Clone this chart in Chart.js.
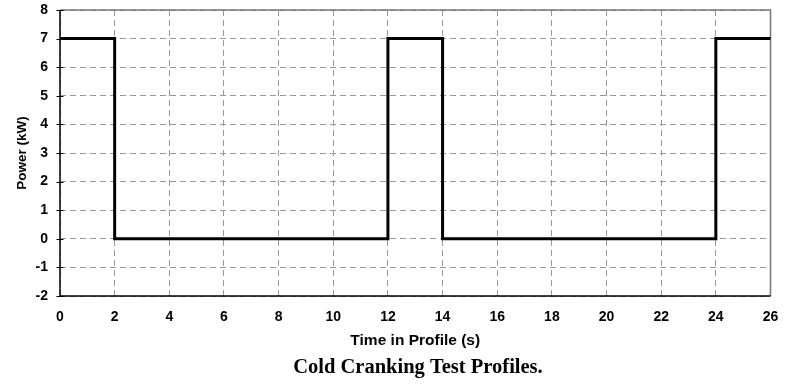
<!DOCTYPE html>
<html>
<head>
<meta charset="utf-8">
<script src="https://cdn.jsdelivr.net/npm/chart.js@4/dist/chart.umd.min.js"></script>
<style>
  html, body { margin: 0; padding: 0; background: #fff; }
  #wrap { width: 788px; height: 388px; position: relative; }
</style>
</head>
<body>
<div id="wrap"><canvas id="c" width="788" height="388"></canvas></div>
<script>
const timeS = [0, 2, 2, 12, 12, 14, 14, 24, 24, 26];
const powerKW = [7, 7, 0, 0, 7, 7, 0, 0, 7, 7];
const xTicks = [0, 2, 4, 6, 8, 10, 12, 14, 16, 18, 20, 22, 24, 26];
const yTicks = [-2, -1, 0, 1, 2, 3, 4, 5, 6, 7, 8];
const xTitle = 'Time in Profile (s)';
const yTitle = 'Power (kW)';
const caption = 'Cold Cranking Test Profiles.';

const points = timeS.map((t, i) => ({ x: t, y: powerKW[i] }));

const framePlugin = {
  id: 'frame',
  beforeDatasetsDraw(chart) {
    const { ctx, chartArea: a } = chart;
    const ys = chart.scales.y;
    ctx.save();
    ctx.lineWidth = 1.5;
    ctx.strokeStyle = '#777';
    ctx.beginPath();
    ctx.moveTo(a.left, a.top);
    ctx.lineTo(a.right, a.top);
    ctx.lineTo(a.right, a.bottom);
    ctx.stroke();
    ctx.strokeStyle = '#000';
    ctx.beginPath();
    ctx.moveTo(a.left, a.top);
    ctx.lineTo(a.left, a.bottom);
    ctx.lineTo(a.right, a.bottom);
    ctx.stroke();
    ctx.lineWidth = 1;
    ctx.beginPath();
    yTicks.forEach(v => {
      const p = Math.round(ys.getPixelForValue(v)) + 0.5;
      ctx.moveTo(a.left - 3.5, p);
      ctx.lineTo(a.left + 3.5, p);
    });
    ctx.stroke();
    ctx.restore();
  },
  afterDraw(chart) {
    const { ctx } = chart;
    ctx.save();
    ctx.fillStyle = '#000';
    ctx.font = 'bold 20.5px "Liberation Serif", "Times New Roman", serif';
    ctx.textAlign = 'center';
    ctx.textBaseline = 'middle';
    ctx.fillText(caption, 418, 368);
    ctx.restore();
  }
};

const tickFont = { family: 'Liberation Sans, Arial, sans-serif', size: 14, weight: 'bold' };

new Chart(document.getElementById('c'), {
  type: 'line',
  data: {
    datasets: [{
      data: points,
      borderColor: '#000',
      borderWidth: 3,
      pointRadius: 0,
      tension: 0,
      fill: false,
      borderJoinStyle: 'miter',
      clip: false
    }]
  },
  options: {
    responsive: false,
    animation: false,
    events: [],
    layout: { padding: { top: 10, right: 17.5, left: 0, bottom: 34 } },
    plugins: {
      legend: { display: false },
      tooltip: { enabled: false },
      title: { display: false }
    },
    scales: {
      x: {
        type: 'linear',
        min: 0,
        max: 26,
        afterBuildTicks(scale) { scale.ticks = xTicks.map(v => ({ value: v })); },
        afterFit(scale) { scale.height = 58; scale.paddingLeft = 0; scale.paddingRight = 0; },
        ticks: { font: tickFont, color: '#000', padding: 13, maxRotation: 0, autoSkip: false },
        grid: { color: '#999', lineWidth: 1, drawTicks: false, tickLength: 0 },
        border: { display: false, dash: [6, 4] },
        title: {
          display: true,
          text: xTitle,
          color: '#000',
          font: { family: 'Liberation Sans, Arial, sans-serif', size: 15.5, weight: 'bold', lineHeight: 1.2 },
          padding: { top: 0, bottom: 3.5 }
        }
      },
      y: {
        type: 'linear',
        min: -2,
        max: 8,
        afterBuildTicks(scale) { scale.ticks = yTicks.map(v => ({ value: v })); },
        afterFit(scale) { scale.width = 60; scale.paddingTop = 0; scale.paddingBottom = 0; },
        ticks: { font: tickFont, color: '#000', padding: 12, autoSkip: false },
        grid: { color: '#999', lineWidth: 1, drawTicks: false, tickLength: 0 },
        border: { display: false, dash: [6, 4] },
        title: {
          display: true,
          text: yTitle,
          color: '#000',
          font: { family: 'Liberation Sans, Arial, sans-serif', size: 13.5, weight: 'bold', lineHeight: 1.2 },
          padding: { top: 14, bottom: 0 }
        }
      }
    }
  },
  plugins: [framePlugin]
});
</script>
</body>
</html>
